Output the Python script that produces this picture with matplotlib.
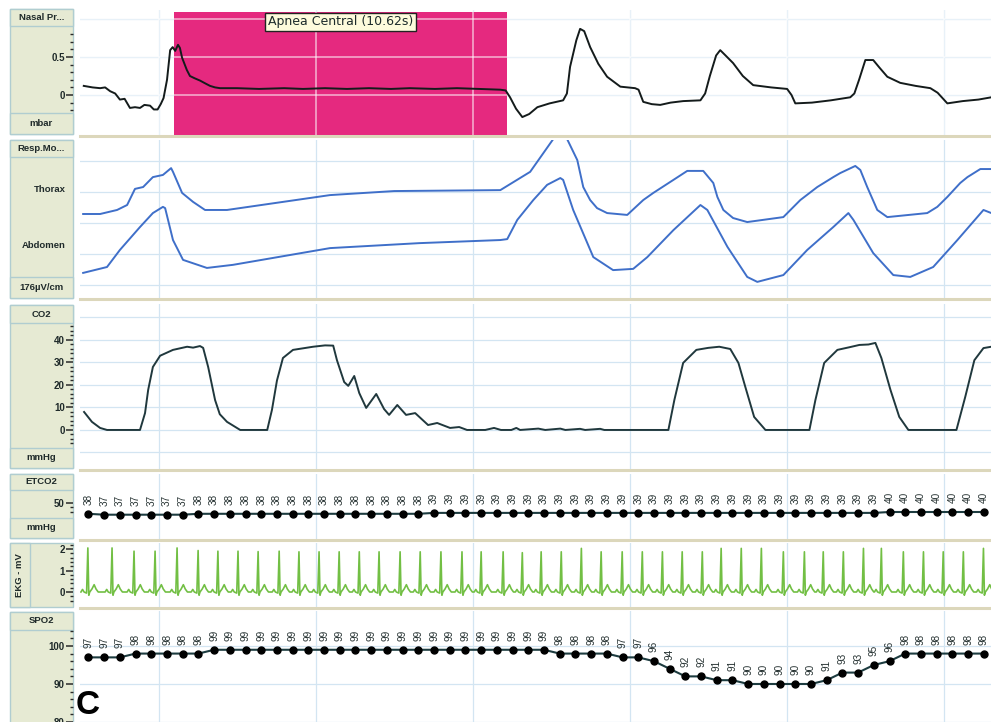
import matplotlib.pyplot as plt
import matplotlib.transforms as mtransforms
import numpy as np
from matplotlib.patches import Rectangle
from matplotlib.ticker import FixedLocator

plt.rcParams['font.family'] = ['Liberation Sans', 'DejaVu Sans']

# ---- values (time axis in seconds) ----
apnea_start = 5.48
apnea_dur = 10.62
apnea_label = 'Apnea Central'

nasal_t = [2.62, 2.90, 3.14, 3.30, 3.46, 3.62, 3.77, 3.92, 4.09, 4.25, 4.41, 4.55, 4.73, 4.85,
           4.97, 5.07, 5.16, 5.27, 5.37, 5.45, 5.53, 5.62, 5.68, 5.75, 5.90, 6.00, 6.15, 6.32,
           6.50, 6.64, 6.80, 6.96, 7.5, 8.2, 9.0, 9.6, 10.3, 11.0, 11.7, 12.4, 13.0, 13.8,
           14.5, 15.2, 15.88, 16.05, 16.19, 16.38, 16.58, 16.80, 17.06, 17.45, 17.88, 18.00,
           18.10, 18.30, 18.42, 18.55, 18.74, 19.00, 19.28, 19.70, 20.17, 20.28, 20.43, 20.70,
           20.97, 21.30, 21.70, 22.25, 22.40, 22.55, 22.75, 22.88, 23.05, 23.29, 23.60, 23.93,
           24.50, 25.01, 25.15, 25.27, 25.80, 26.40, 27.02, 27.15, 27.30, 27.50, 27.75, 27.95,
           28.20, 28.61, 29.10, 29.57, 29.80, 30.11, 30.60, 31.10, 31.51]
nasal_mbar = [0.12, 0.10, 0.09, 0.10, 0.05, 0.02, -0.06, -0.05, -0.17, -0.16, -0.17, -0.13, -0.14, -0.19,
              -0.19, -0.12, -0.04, 0.20, 0.59, 0.63, 0.58, 0.66, 0.62, 0.49, 0.33, 0.25, 0.22, 0.19,
              0.15, 0.12, 0.10, 0.09, 0.09, 0.08, 0.09, 0.08, 0.09, 0.08, 0.09, 0.08, 0.09, 0.08,
              0.09, 0.08, 0.07, 0.06, -0.03, -0.18, -0.29, -0.25, -0.16, -0.11, -0.07, 0.02,
              0.37, 0.72, 0.87, 0.84, 0.63, 0.41, 0.24, 0.11, 0.09, 0.07, -0.09, -0.12,
              -0.13, -0.10, -0.08, -0.07, 0.02, 0.25, 0.52, 0.59, 0.52, 0.42, 0.25, 0.13,
              0.10, 0.08, 0.00, -0.11, -0.10, -0.07, -0.03, 0.02, 0.20, 0.46, 0.46, 0.36,
              0.24, 0.16, 0.12, 0.09, 0.03, -0.11, -0.08, -0.06, -0.03]

thorax_t = [2.60, 3.14, 3.68, 4.00, 4.25, 4.51, 4.82, 5.14, 5.40, 5.46, 5.75, 6.10, 6.48, 7.18,
            10.46, 12.50, 15.88, 16.83, 17.56, 17.79, 18.01, 18.33, 18.52, 18.74, 18.96, 19.28,
            19.92, 20.43, 20.75, 21.39, 21.83, 22.34, 22.66, 22.79, 22.98, 23.29, 23.74, 24.89,
            25.43, 25.97, 26.48, 26.70, 27.18, 27.34, 27.56, 27.88, 28.20, 29.47, 29.79, 30.11,
            30.52, 30.75, 31.16, 31.51]
thorax_v = [2.29, 2.29, 2.42, 2.58, 3.10, 3.16, 3.48, 3.55, 3.77, 3.65, 2.97, 2.68, 2.42, 2.42,
            2.90, 3.03, 3.06, 3.65, 4.70, 4.90, 4.70, 4.03, 3.16, 2.74, 2.48, 2.32,
            2.26, 2.74, 2.97, 3.39, 3.68, 3.68, 3.29, 2.84, 2.42, 2.16, 2.03, 2.19,
            2.74, 3.16, 3.48, 3.61, 3.84, 3.71, 3.16, 2.42, 2.19, 2.32, 2.52, 2.84,
            3.29, 3.48, 3.74, 3.74]

abdomen_t = [2.60, 3.36, 3.77, 4.41, 4.82, 5.14, 5.21, 5.46, 5.78, 6.54, 7.37, 10.46, 13.30,
             15.88, 16.10, 16.42, 16.93, 17.37, 17.79, 17.88, 18.20, 18.84, 19.47, 20.11, 20.56,
             21.39, 22.25, 22.47, 23.11, 23.74, 24.06, 24.89, 25.65, 26.48, 26.96, 27.12, 27.75,
             28.39, 28.93, 29.66, 30.43, 31.26, 31.51]
abdomen_v = [0.39, 0.58, 1.13, 1.87, 2.32, 2.52, 2.48, 1.45, 0.81, 0.55, 0.65, 1.19, 1.35,
             1.45, 1.48, 2.10, 2.74, 3.23, 3.45, 3.39, 2.42, 0.90, 0.48, 0.52, 0.90,
             1.77, 2.58, 2.42, 1.23, 0.26, 0.10, 0.32, 1.13, 1.87, 2.32, 2.10, 1.03,
             0.32, 0.26, 0.58, 1.45, 2.42, 2.32]

co2_t = [2.63, 2.88, 3.14, 3.36, 4.41, 4.57, 4.67, 4.82, 5.05, 5.46, 5.91, 6.10, 6.32, 6.42,
         6.58, 6.80, 6.95, 7.18, 7.60, 8.46, 8.61, 8.77, 8.96, 9.28, 9.60, 9.92, 10.30, 10.56,
         10.68, 10.91, 11.04, 11.23, 11.39, 11.61, 11.93, 12.18, 12.34, 12.60, 12.88, 13.17,
         13.58, 13.87, 14.28, 14.57, 14.82, 15.40, 15.68, 15.90, 16.23, 16.39, 16.51, 17.09,
         17.31, 17.79, 17.95, 18.42, 18.58, 19.06, 19.19, 21.23, 21.42, 21.70, 22.12, 22.50,
         22.85, 23.20, 23.46, 23.68, 23.96, 24.32, 25.72, 25.91, 26.19, 26.61, 27.00, 27.31,
         27.60, 27.82, 28.01, 28.30, 28.58, 28.87, 30.40, 30.68, 30.97, 31.26, 31.51]
co2_mmhg = [8.0, 3.6, 0.9, 0.0, 0.0, 7.5, 17.8, 28.0, 33.0, 35.6, 37.0, 36.6, 37.3, 36.5,
            28.0, 13.3, 7.0, 3.6, 0.0, 0.0, 8.9, 22.0, 32.0, 35.6, 36.3, 37.0, 37.6, 37.5,
            31.0, 21.3, 19.6, 24.0, 16.4, 9.8, 16.0, 9.3, 6.7, 11.1, 6.7, 7.5,
            2.2, 3.1, 0.9, 1.3, 0.0, 0.0, 0.9, 0.0, 0.0, 0.9, 0.0, 0.6,
            0.0, 0.6, 0.0, 0.5, 0.0, 0.5, 0.0, 0.0, 13.3, 29.8, 35.6, 36.5,
            37.0, 36.0, 29.8, 19.1, 5.8, 0.0, 0.0, 13.3, 29.8, 35.6, 36.8, 37.8,
            38.0, 38.7, 32.0, 17.8, 5.8, 0.0, 0.0, 14.7, 31.0, 36.4, 37.0]

# ETCO2 and SpO2 are sampled every half second
sample_t0 = 2.77
sample_dt = 0.5
etco2 = [38, 37, 37, 37, 37, 37, 37,
         38, 38, 38, 38, 38, 38, 38, 38, 38, 38, 38, 38, 38, 38, 38,
         39, 39, 39, 39, 39, 39, 39, 39, 39, 39, 39, 39, 39, 39, 39,
         39, 39, 39, 39, 39, 39, 39, 39, 39, 39, 39, 39, 39, 39,
         40, 40, 40, 40, 40, 40, 40]
spo2 = [97, 97, 97, 98, 98, 98, 98, 98,
        99, 99, 99, 99, 99, 99, 99, 99, 99, 99, 99, 99, 99, 99, 99, 99, 99, 99, 99, 99, 99, 99,
        98, 98, 98, 98, 97, 97, 96, 94, 92, 92, 91, 91, 90, 90, 90, 90, 90, 91, 93, 93, 95, 96,
        98, 98, 98, 98, 98, 98]

ekg_beat_t = [2.75, 3.52, 4.22, 4.89, 5.59, 6.26, 6.89, 7.53, 8.17, 8.84, 9.47, 10.11, 10.75,
              11.39, 12.02, 12.69, 13.33, 13.99, 14.66, 15.27, 15.97, 16.58, 17.18, 17.82, 18.46,
              19.09, 19.76, 20.40, 21.04, 21.67, 22.31, 22.91, 23.55, 24.19, 24.89, 25.56, 26.16,
              26.80, 27.44, 28.01, 28.71, 29.35, 29.98, 30.62, 31.26]
ekg_beat_mv = [2.05, 2.05, 1.90, 1.90, 2.05, 1.93, 1.90, 1.90, 1.88, 1.90, 1.87, 1.87, 1.87,
               1.87, 1.87, 1.87, 1.87, 1.87, 1.87, 1.87, 1.87, 1.83, 1.87, 1.87, 2.03,
               1.87, 1.87, 1.87, 1.87, 1.87, 1.87, 2.03, 2.03, 2.03, 1.87, 1.87, 1.87,
               1.87, 2.03, 2.03, 1.87, 1.87, 1.87, 1.87, 2.03]
# one heartbeat around the R peak (None = R peak height)
beat_shape_dt = [-0.22, -0.17, -0.12, -0.04, 0.0, 0.03, 0.06, 0.13, 0.20, 0.26, 0.33]
beat_shape_mv = [0.0, 0.12, 0.0, -0.05, None, -0.15, 0.0, 0.14, 0.34, 0.14, 0.0]

# ---- layout (pixels of the 991x722 picture) ----
W, H = 991, 722
X_COL0, X_COL1, X_PLOT = 10, 73, 80
T_LIM = (2.5, 31.5)
GRID_T = [5, 10, 15, 20, 25, 30]
GRID_C = '#d3e5f2'
COL_BG = '#e6ead3'
COL_EDGE = '#b0cdd0'
SEP_C = '#dcd7bb'
TXT_C = '#1f2a2a'

fig = plt.figure(figsize=(W / 100, H / 100), dpi=100)


def box(x0, top, x1, bottom):
    return [x0 / W, 1 - bottom / H, (x1 - x0) / W, (bottom - top) / H]


def column(top, bottom, header=None, footer=None, hh=17, fh=20):
    h = bottom - top
    w = X_COL1 - X_COL0
    cax = fig.add_axes(box(X_COL0, top, X_COL1, bottom))
    cax.set_xlim(0, w)
    cax.set_ylim(h, 0)
    cax.axis('off')
    cax.add_patch(Rectangle((0, 0), w, h, fc=COL_BG, ec=COL_EDGE, lw=1, clip_on=False))
    if header:
        cax.add_patch(Rectangle((0, 0), w, hh, fc=COL_BG, ec=COL_EDGE, lw=1, clip_on=False))
        cax.text(w / 2, hh / 2, header, ha='center', va='center', fontsize=6.8,
                 fontweight='bold', color=TXT_C)
    if footer:
        cax.add_patch(Rectangle((0, h - fh), w, fh, fc=COL_BG, ec=COL_EDGE, lw=1, clip_on=False))
        cax.text(w / 2, h - fh / 2, footer, ha='center', va='center', fontsize=6.8,
                 fontweight='bold', color=TXT_C)
    return cax


def panel(top, bottom, ylim, hgrid=(), sep=True):
    ax = fig.add_axes(box(X_PLOT, top, W, bottom))
    ax.set_xlim(*T_LIM)
    ax.set_ylim(*ylim)
    for s in ('top', 'right'):
        ax.spines[s].set_visible(False)
    ax.spines['left'].set_position(('outward', 5))
    ax.spines['left'].set_visible(False)
    if sep:
        ax.spines['bottom'].set_color(SEP_C)
        ax.spines['bottom'].set_linewidth(2.2)
    else:
        ax.spines['bottom'].set_visible(False)
    ax.tick_params(axis='x', bottom=False, labelbottom=False)
    ax.tick_params(axis='y', which='major', length=5, width=1.1, color='#2a2a2a',
                   labelcolor=TXT_C, labelsize=7, pad=1)
    ax.tick_params(axis='y', which='minor', length=2.5, width=1.0, color='#2a2a2a')
    for t in GRID_T:
        ax.axvline(t, color=GRID_C, lw=0.9, zorder=0.5)
    for v in hgrid:
        ax.axhline(v, color=GRID_C, lw=0.9, zorder=0.5)
    return ax


def bold_ticks(ax):
    for lab in ax.get_yticklabels():
        lab.set_fontweight('bold')


def sampled(ax, values):
    ts = sample_t0 + sample_dt * np.arange(len(values))
    ax.plot(ts, values, color='#1d3c40', lw=1.5, marker='o', ms=5,
            mfc='black', mec='black', zorder=3)
    for t, v in zip(ts, values):
        ax.annotate(str(v), (t, v), xytext=(0, 10.5), textcoords='offset points',
                    rotation=90, ha='center', va='center', fontsize=7.2, color='#263232')


# Nasal pressure
column(9, 134, 'Nasal Pr...', 'mbar', fh=21)
ax1 = panel(10, 136, (-0.539, 1.118), hgrid=[0, 0.5, 1.0])
span = ax1.axvspan(apnea_start, apnea_start + apnea_dur, ymin=0.008, ymax=0.984,
                   fc='#e5297f', lw=0, zorder=1)
for t in GRID_T:
    ax1.axvline(t, color='white', alpha=0.55, lw=1.3, zorder=1.2, clip_path=span)
for v in [0, 0.5, 1.0]:
    ax1.axhline(v, color='white', alpha=0.55, lw=1.3, zorder=1.2, clip_path=span)
ax1.plot(nasal_t, nasal_mbar, color='#141b1b', lw=1.4, zorder=3)
ax1.set_yticks([0, 0.5])
ax1.set_yticklabels(['0', '0.5'])
ax1.yaxis.set_minor_locator(FixedLocator([-0.2, -0.1, 0.1, 0.2, 0.3, 0.4, 0.6, 0.7, 0.8]))
bold_ticks(ax1)
trans = mtransforms.blended_transform_factory(ax1.transData, ax1.transAxes)
ax1.text(apnea_start + apnea_dur / 2, 0.905, f'{apnea_label} ({apnea_dur:.2f}s)',
         transform=trans, ha='center', va='center', fontsize=9, family='DejaVu Sans',
         color='#1c2b2b', zorder=5,
         bbox=dict(boxstyle='square,pad=0.2', fc='#fdfbdc', ec='#222222', lw=1.0))

# Respiratory movement
cax2 = column(140, 298, 'Resp.Mo...', '176µV/cm', fh=21)
cax2.text(56, 50, 'Thorax', ha='right', va='center', fontsize=6.8, fontweight='bold', color=TXT_C)
cax2.text(56, 105, 'Abdomen', ha='right', va='center', fontsize=6.8, fontweight='bold', color=TXT_C)
ax2 = panel(140, 299, (-0.452, 4.677), hgrid=[0, 1, 2, 3, 4])
ax2.set_yticks([])
ax2.plot(thorax_t, thorax_v, color='#3f6fc9', lw=1.4, zorder=3)
ax2.plot(abdomen_t, abdomen_v, color='#3f6fc9', lw=1.4, zorder=3)

# CO2
column(305, 468, 'CO2', 'mmHg', hh=18)
ax3 = panel(304, 470, (-17.8, 56.0), hgrid=[-10, 0, 10, 20, 30, 40, 50])
ax3.plot(co2_t, co2_mmhg, color='#20383d', lw=1.4, zorder=3)
ax3.set_yticks([0, 10, 20, 30, 40])
ax3.yaxis.set_minor_locator(FixedLocator(np.arange(-6, 48, 2)))
bold_ticks(ax3)

# ETCO2
column(474, 538, 'ETCO2', 'mmHg', hh=16)
ax4 = panel(474, 540, (8.9, 82.2))
ax4.set_yticks([50])
ax4.yaxis.set_minor_locator(FixedLocator([40, 45]))
bold_ticks(ax4)
sampled(ax4, etco2)

# EKG
cax5 = column(543, 607)
cax5.add_patch(Rectangle((0, 0), 20, 64, fc=COL_BG, ec=COL_EDGE, lw=1, clip_on=False))
cax5.text(10, 32, 'EKG - mV', rotation=90, ha='center', va='center', fontsize=6.8,
          fontweight='bold', color=TXT_C)
ax5 = panel(543, 608, (-0.744, 2.279))
ekg_t, ekg_v = [], []
for bt, amp in zip(ekg_beat_t, ekg_beat_mv):
    for dt, mv in zip(beat_shape_dt, beat_shape_mv):
        ekg_t.append(bt + dt)
        ekg_v.append(amp if mv is None else mv)
ax5.plot(ekg_t, ekg_v, color='#72bf44', lw=1.2, zorder=3)
ax5.set_yticks([0, 1, 2])
ax5.yaxis.set_minor_locator(FixedLocator(np.arange(-0.4, 2.3, 0.2)))
bold_ticks(ax5)

# SpO2
column(612, 730, 'SPO2', hh=18)
ax6 = panel(611, 722, (80.0, 109.2), hgrid=[80, 90, 100], sep=False)
ax6.set_yticks([80, 90, 100])
ax6.yaxis.set_minor_locator(FixedLocator(np.arange(78, 106, 2)))
bold_ticks(ax6)
sampled(ax6, spo2)

fig.text(76 / W, 1 - 721 / H, 'C', fontsize=24, fontweight='bold', ha='left', va='bottom')

fig.savefig('out.png', dpi=100)
